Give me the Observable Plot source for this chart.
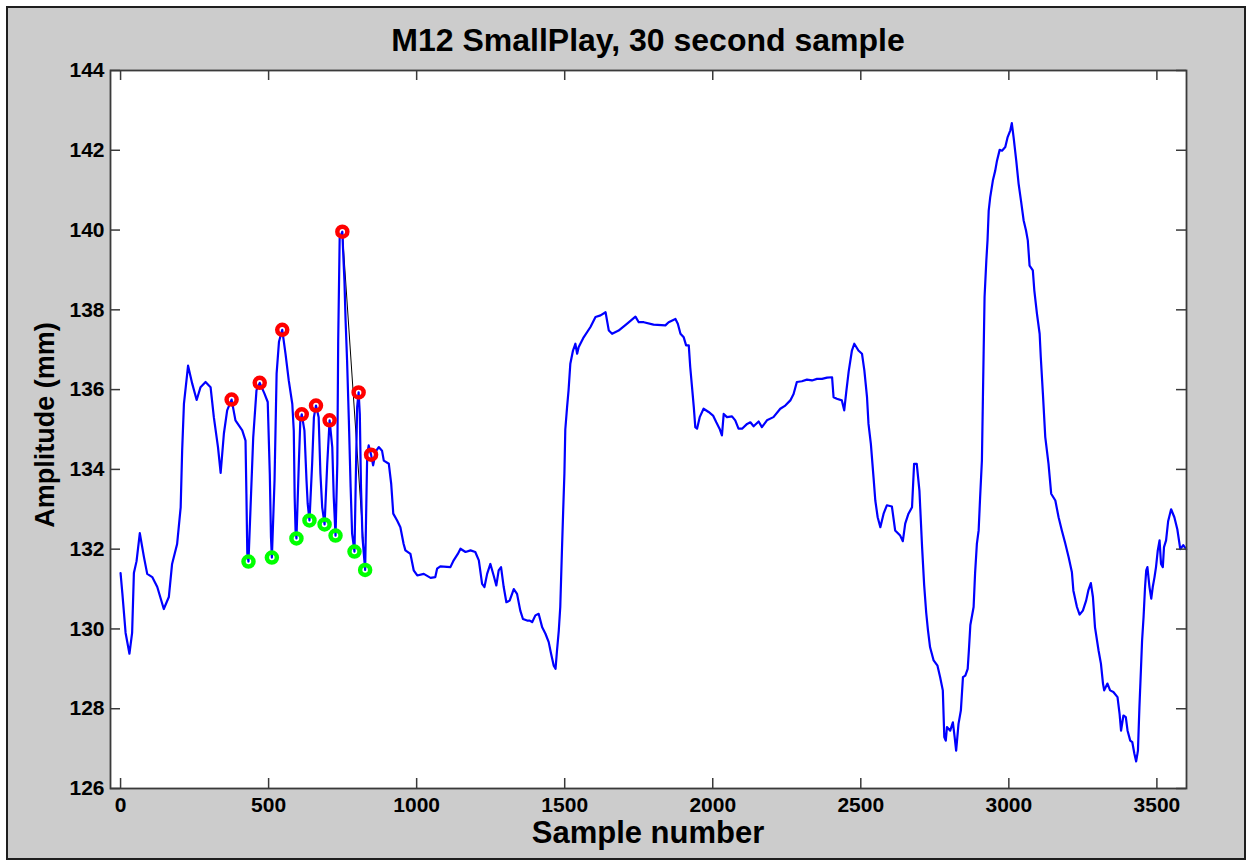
<!DOCTYPE html>
<html>
<head>
<meta charset="utf-8">
<script src="https://cdn.jsdelivr.net/npm/d3@7"></script>
<script src="https://cdn.jsdelivr.net/npm/@observablehq/plot@0.6"></script>
<style>
  html, body { margin: 0; padding: 0; background: #ffffff; }
  #fig { position: relative; width: 1252px; height: 866px; font-family: "Liberation Sans", Arial, sans-serif; overflow: hidden; }
  #panel { position: absolute; left: 6px; top: 6px; width: 1240px; height: 854px; box-sizing: border-box; border: 2px solid #1e1e1e; background: #cccccc; }
  #chart { position: absolute; left: 0; top: 0; }
  .lbl { position: absolute; font-weight: bold; color: #000; white-space: nowrap; line-height: 1; }
  #title { left: 110px; width: 1076px; top: 24px; text-align: center; font-size: 32px; }
  #xlabel { left: 110px; width: 1076px; top: 817px; text-align: center; font-size: 31px; }
  #ylabel { left: 45px; top: 425px; font-size: 27px; transform: translate(-50%, -50%) rotate(-90deg); }
</style>
</head>
<body>
<div id="fig">
  <div id="panel"></div>
  <div id="chart"></div>
  <div class="lbl" id="title">M12 SmallPlay, 30 second sample</div>
  <div class="lbl" id="xlabel">Sample number</div>
  <div class="lbl" id="ylabel">Amplitude (mm)</div>
</div>
<script>
// ---- Data ----
const sampleIdx = [0,6,17,30,39,45,54,65,79,90,107,124,146,163,174,191,203,208,214,228,242,257,270,287,304,315,329,338,349,360,375,388,411,422,425,428,432,439,448,459,470,486,497,504,508,511,520,527,535,546,557,568,580,585,588,591,594,602,607,612,621,628,632,638,647,653,660,669,675,681,689,698,706,715,720,726,732,735,740,749,752,756,760,765,771,777,782,790,796,799,804,808,812,817,826,829,833,838,846,853,862,872,883,889,906,914,921,934,945,956,962,979,990,1002,1024,1047,1063,1069,1080,1114,1125,1139,1148,1165,1182,1198,1210,1221,1229,1238,1249,1260,1269,1277,1285,1294,1303,1314,1328,1339,1350,1359,1373,1382,1390,1401,1412,1424,1435,1446,1454,1463,1469,1474,1480,1485,1491,1495,1499,1502,1508,1513,1519,1528,1536,1542,1547,1564,1587,1604,1621,1638,1649,1660,1682,1710,1739,1750,1767,1800,1840,1851,1874,1882,1891,1902,1910,1919,1924,1930,1936,1941,1947,1956,1969,1986,2001,2012,2023,2031,2037,2048,2065,2076,2087,2099,2116,2127,2138,2155,2166,2183,2205,2228,2245,2262,2273,2284,2301,2318,2335,2352,2369,2386,2403,2408,2419,2436,2444,2451,2459,2470,2478,2492,2504,2512,2521,2526,2534,2543,2549,2557,2566,2577,2588,2605,2616,2633,2642,2650,2661,2673,2680,2689,2698,2707,2714,2721,2727,2734,2746,2759,2768,2777,2782,2787,2791,2802,2811,2817,2822,2830,2838,2845,2853,2861,2865,2870,2881,2886,2892,2898,2903,2909,2912,2915,2918,2924,2928,2932,2937,2946,2954,2960,2969,2977,2988,2996,3005,3010,3016,3025,3033,3041,3050,3058,3064,3070,3081,3086,3095,3104,3108,3115,3123,3134,3143,3157,3168,3179,3190,3202,3213,3218,3230,3239,3250,3261,3269,3277,3284,3291,3303,3311,3318,3322,3333,3342,3353,3367,3374,3379,3387,3395,3401,3410,3417,3424,3430,3436,3441,3446,3450,3455,3460,3464,3468,3475,3481,3486,3492,3497,3503,3509,3514,3520,3524,3531,3538,3548,3559,3569,3579,3589,3599];
const amplitude = [131.4,130.9,129.9,129.38,129.9,131.4,131.7,132.4,131.8,131.38,131.3,131.05,130.5,130.8,131.63,132.13,133.05,134.47,135.64,136.6,136.15,135.74,136.06,136.19,136.06,135.31,134.56,133.91,134.9,135.48,135.75,135.23,134.98,134.72,133.39,131.9,131.69,133.05,134.8,135.98,136.17,135.9,135.69,133.89,132.3,131.79,133.72,136.4,137.2,137.5,136.9,136.23,135.64,134.97,133.3,132.47,132.27,134.14,135.2,135.38,134.97,133.72,133.14,132.72,134.14,135.31,135.6,135.31,133.89,133.05,132.62,134.14,135.23,134.56,133.3,132.34,134.14,137.23,139.8,139.96,139.4,138.74,137.73,136.73,135.23,133.55,132.39,131.94,134.39,135.56,135.93,135.39,133.55,132.3,131.48,132.72,134.39,134.6,134.37,134.1,134.45,134.56,134.47,134.22,134.14,133.64,132.89,132.72,132.55,132.13,131.97,131.88,131.47,131.34,131.38,131.28,131.3,131.51,131.57,131.55,131.72,131.88,132.01,131.93,131.97,131.93,131.72,131.13,131.05,131.38,131.63,131.34,131.09,131.47,131.55,131.05,130.67,130.71,131.0,130.88,130.46,130.25,130.21,130.21,130.17,130.34,130.38,130.04,129.88,129.67,129.38,129.08,129.0,129.46,129.96,130.55,132.05,133.0,133.9,135.0,135.56,135.98,136.65,136.98,137.15,136.9,137.06,137.31,137.57,137.82,137.86,137.94,137.48,137.4,137.48,137.65,137.83,137.69,137.69,137.63,137.61,137.69,137.77,137.65,137.4,137.31,137.11,137.11,136.56,136.06,135.56,135.06,135.02,135.31,135.52,135.44,135.35,135.18,135.02,134.85,135.39,135.31,135.33,135.23,135.02,135.02,135.14,135.18,135.08,135.2,135.06,135.23,135.31,135.52,135.6,135.73,135.89,136.19,136.21,136.25,136.23,136.27,136.27,136.3,136.31,135.81,135.77,135.73,135.48,135.95,136.45,136.98,137.15,136.98,136.9,136.48,135.81,135.14,134.64,133.8,133.22,132.8,132.55,132.89,133.1,133.07,132.47,132.34,132.2,132.64,132.89,133.05,134.14,134.14,133.47,132.05,131.1,130.4,129.96,129.54,129.21,129.08,128.79,128.46,127.29,127.2,127.54,127.45,127.66,127.29,126.95,127.62,127.96,128.79,128.83,129.0,129.46,130.1,130.55,131.4,132.13,132.47,133.3,134.22,135.6,137.0,138.32,139.24,139.74,140.49,140.82,141.24,141.49,141.74,142.01,141.99,142.08,142.33,142.5,142.68,142.33,141.74,141.16,140.74,140.24,139.99,139.74,139.11,138.99,138.49,137.9,137.4,136.8,135.9,134.81,134.14,133.39,133.22,132.8,132.47,132.16,131.8,131.42,130.96,130.55,130.36,130.46,130.71,130.98,131.15,130.8,130.04,129.46,129.13,128.63,128.46,128.63,128.46,128.42,128.29,127.87,127.45,127.83,127.79,127.45,127.2,127.16,126.87,126.68,126.95,128.04,128.96,129.71,130.3,131.05,131.47,131.55,131.05,130.76,131.05,131.3,131.55,131.97,132.22,131.63,131.55,132.05,132.22,132.7,133.0,132.8,132.5,132.0,132.1,132.0];

const peakSample   = [375, 470, 546, 612, 660, 706, 749, 804, 846];
const peakAmp      = [135.75, 136.17, 137.5, 135.38, 135.6, 135.23, 139.96, 135.93, 134.37];
const troughSample = [432, 511, 594, 638, 689, 726, 790, 826];
const troughAmp    = [131.69, 131.79, 132.27, 132.72, 132.62, 132.34, 131.94, 131.48];

const xTicks = [0, 500, 1000, 1500, 2000, 2500, 3000, 3500];
const yTicks = [126, 128, 130, 132, 134, 136, 138, 140, 142, 144];
const xDomain = [-34, 3600];
const yDomain = [126, 144];

// ---- Build tables ----
const series  = sampleIdx.map((s, i) => ({s, a: amplitude[i]}));
const peaks   = peakSample.map((s, i) => ({s, a: peakAmp[i]}));
const troughs = troughSample.map((s, i) => ({s, a: troughAmp[i]}));
const span = [peaks[6], troughs[troughs.length - 1]];

const W = 1252, H = 866, mL = 110, mR = 66, mT = 70, mB = 78;
const fw = W - mL - mR, fh = H - mT - mB, tl = 10;
const axisCol = "#3a3a3a";

const chart = Plot.plot({
  width: W, height: H,
  marginLeft: mL, marginRight: mR, marginTop: mT, marginBottom: mB,
  style: {background: "transparent", color: "black", fontFamily: "'Liberation Sans', Arial, sans-serif", overflow: "visible"},
  x: {domain: xDomain, label: null},
  y: {domain: yDomain, label: null},
  marks: [
    Plot.frame({fill: "white", stroke: null}),
    Plot.line(span, {x: "s", y: "a", stroke: "#000000", strokeWidth: 1}),
    Plot.line(series, {x: "s", y: "a", stroke: "#0000ff", strokeWidth: 2.2}),
    Plot.dot(peaks, {x: "s", y: "a", r: 5, stroke: "#ff0000", strokeWidth: 4.5, fill: "none"}),
    Plot.dot(troughs, {x: "s", y: "a", r: 5, stroke: "#00ff00", strokeWidth: 4.5, fill: "none"}),
    Plot.tickX(xTicks, {x: d => d, insetTop: fh - tl, stroke: axisCol, strokeWidth: 1.5}),
    Plot.tickX(xTicks, {x: d => d, insetBottom: fh - tl, stroke: axisCol, strokeWidth: 1.5}),
    Plot.tickY(yTicks, {y: d => d, insetRight: fw - tl, stroke: axisCol, strokeWidth: 1.5}),
    Plot.tickY(yTicks, {y: d => d, insetLeft: fw - tl, stroke: axisCol, strokeWidth: 1.5}),
    Plot.frame({stroke: axisCol, strokeWidth: 1.8}),
    Plot.axisX(xTicks, {tickSize: 0, tickPadding: 9, fontSize: 21, fontWeight: "bold", fill: "black", label: null, tickFormat: d => String(d)}),
    Plot.axisY(yTicks, {tickSize: 0, tickPadding: 6, fontSize: 21, fontWeight: "bold", fill: "black", label: null, tickFormat: d => String(d)})
  ]
});
document.getElementById("chart").appendChild(chart);
</script>
</body>
</html>
